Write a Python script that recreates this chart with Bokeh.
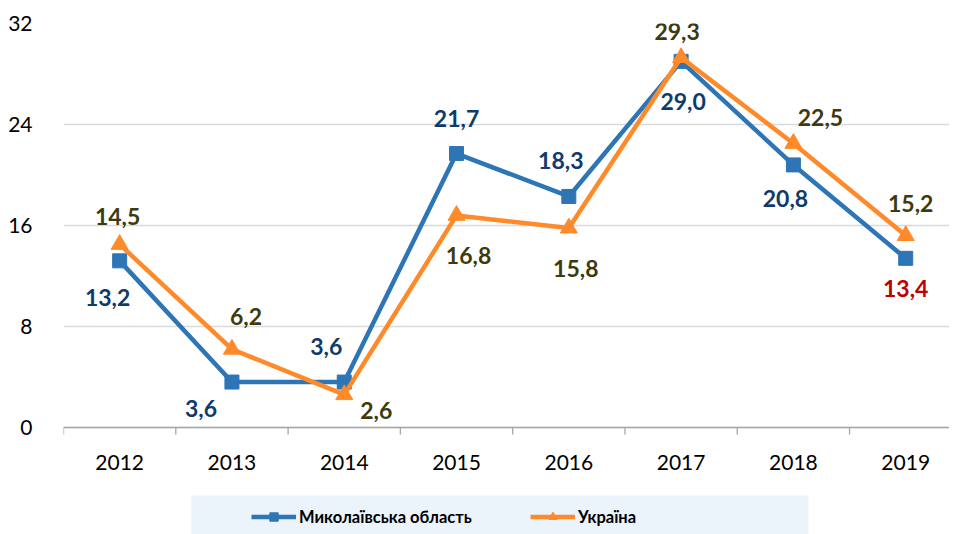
from bokeh.plotting import figure
from bokeh.models import (ColumnDataSource, LabelSet, Range1d, FixedTicker,
                          Legend, LegendItem, Span, BoxAnnotation)
from bokeh.core.properties import value
from bokeh.embed import file_html
from bokeh.resources import INLINE

years = ["2012", "2013", "2014", "2015", "2016", "2017", "2018", "2019"]
mykolaiv = [13.2, 3.6, 3.6, 21.7, 18.3, 29.0, 20.8, 13.4]
ukraine = [14.5, 6.2, 2.6, 16.8, 15.8, 29.3, 22.5, 15.2]
y_ticks = [0, 8, 16, 24, 32]

BLUE = "#2E75B6"
ORANGE = "#FF8A2A"
NAVY = "#0F3B6C"
OLIVE = "#3C3A0E"
RED = "#C00000"
AXIS_GREY = "#A6A6A6"
FONT = "Lato"

xs = list(range(len(years)))

# frame: 404 px for 0..32 (12.625 px/unit); extended downward to hold
# category labels and the legend inside the frame
PX = 404 / 32.0
Y_MIN = -(534 - 23 - 404) / PX
p = figure(frame_width=886, frame_height=511, output_backend="svg", toolbar_location=None,
           x_range=Range1d(-0.5, 7.39), y_range=Range1d(Y_MIN, 32),
           min_border_left=63, min_border_top=23, min_border_right=0,
           min_border_bottom=0)
p.outline_line_color = None
p.background_fill_color = "white"
p.xaxis.visible = False

p.yaxis.ticker = FixedTicker(ticks=y_ticks)
p.yaxis.axis_line_color = None
p.yaxis.major_tick_line_color = None
p.yaxis.minor_tick_line_color = None
p.yaxis.major_label_text_font = FONT
p.yaxis.major_label_text_font_size = "21px"
p.yaxis.major_label_text_color = "#000000"
p.yaxis.major_label_standoff = 25

p.xgrid.grid_line_color = None
p.ygrid.grid_line_color = "#D9D9D9"
p.ygrid.grid_line_width = 1.3

# category axis line, tick marks between categories and year labels
p.add_layout(Span(location=0, dimension="width", line_color=AXIS_GREY, line_width=1.3))
mids = [i - 0.5 for i in range(len(years) + 1)]
p.segment(x0=mids, y0=[0] * len(mids), x1=mids, y1=[-7 / PX] * len(mids),
          line_color=AXIS_GREY, line_width=1.3)
yr_src = ColumnDataSource(dict(x=xs, y=[0] * len(xs), t=years))
p.add_layout(LabelSet(x="x", y="y", text="t", source=yr_src, y_offset=-35,
                      text_font=value(FONT), text_font_size=value("21px"),
                      text_color=value("#000000"),
                      text_align=value("center"), text_baseline=value("middle")))

src = ColumnDataSource(dict(x=xs, m=mykolaiv, u=ukraine))

l1 = p.line("x", "m", source=src, line_color=BLUE, line_width=4.5)
s1 = p.scatter("x", "m", source=src, marker="square", size=14,
               fill_color=BLUE, line_color=BLUE)
l2 = p.line("x", "u", source=src, line_color=ORANGE, line_width=4.5)
s2 = p.scatter("x", "u", source=src, marker="triangle", size=17,
               fill_color=ORANGE, line_color=ORANGE)

# data labels
m_dx = [-12, -31, -18, 0, -8, 2, -8, 0]
m_dy = [-37, -26, 36, 35, 36, -40, -34, -30]
m_col = [NAVY] * 7 + [RED]
u_dx = [-2, 14, 32, 12, 7, -4, 27, 5]
u_dy = [28, 33, -16, -40, -40, 26, 26, 32]

fmt = lambda v: f"{v:.1f}".replace(".", ",")
lab_src = ColumnDataSource(dict(
    x=xs + xs,
    y=mykolaiv + ukraine,
    t=[fmt(v) for v in mykolaiv] + [fmt(v) for v in ukraine],
    dx=m_dx + u_dx,
    dy=m_dy + u_dy,
    c=m_col + [OLIVE] * len(years),
))
p.add_layout(LabelSet(x="x", y="y", text="t", source=lab_src,
                      x_offset="dx", y_offset="dy", text_color="c",
                      text_font=value(FONT), text_font_size=value("23px"),
                      text_font_style=value("bold"),
                      text_align=value("center"), text_baseline=value("middle")))

# legend background panel (light blue) below the category labels
p.add_layout(BoxAnnotation(left=-0.5 + (191 - 63) / 112.3, right=-0.5 + (808 - 63) / 112.3,
                           bottom=Y_MIN, top=-(495 - 427) / PX,
                           fill_color="#EBF3FB", fill_alpha=1, line_color=None,
                           level="underlay"))

legend = Legend(items=[
    LegendItem(label="Миколаївська область", renderers=[l1, s1]),
    LegendItem(label="Україна", renderers=[l2, s2]),
], orientation="horizontal", location=(188, 7))
legend.background_fill_alpha = 0
legend.border_line_color = None
legend.label_text_font = FONT
legend.label_text_font_size = "16.5px"
legend.label_text_font_style = "bold"
legend.label_text_color = "#000000"
legend.glyph_width = 45
legend.glyph_height = 21
legend.label_standoff = 3
legend.label_width = 174
legend.spacing = 57
legend.padding = 9
legend.margin = 0
p.add_layout(legend)

open("out.html", "w").write(file_html(p, INLINE))
